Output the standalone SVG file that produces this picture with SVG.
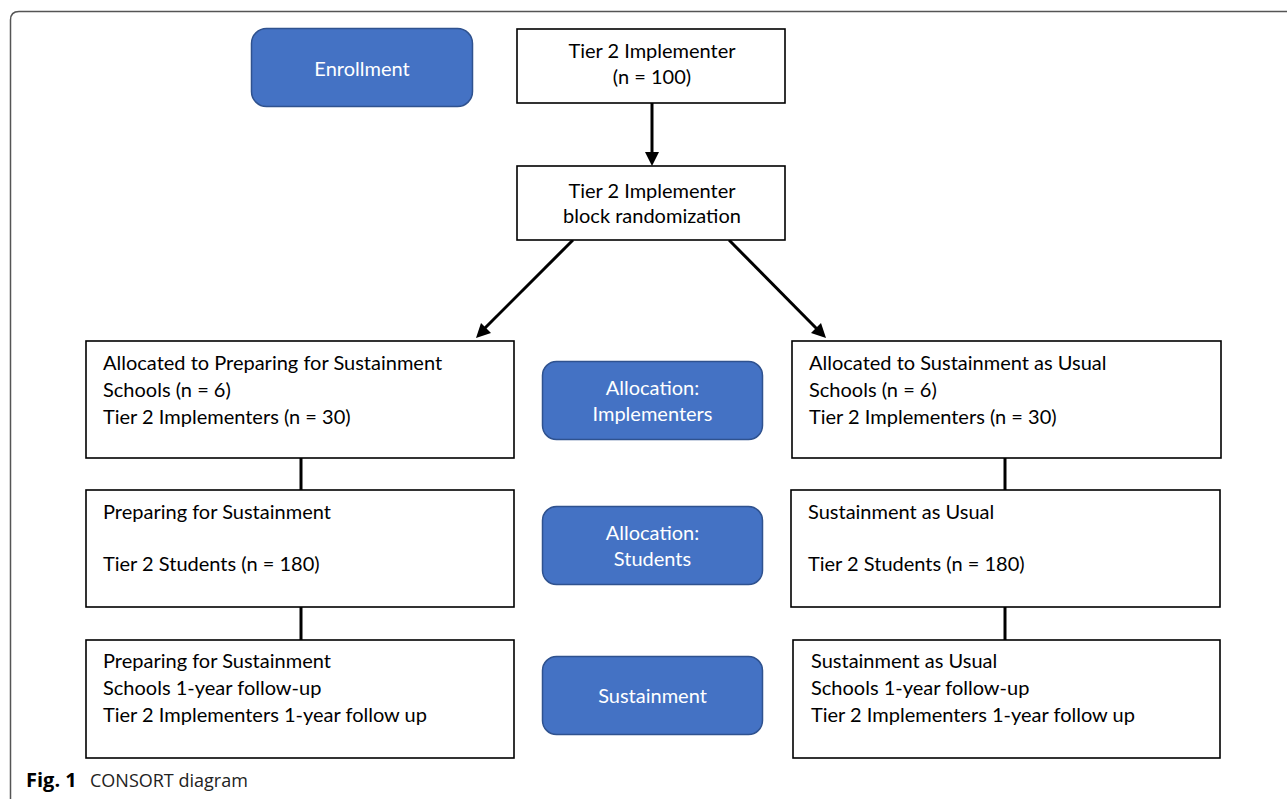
<svg xmlns="http://www.w3.org/2000/svg" width="1287" height="799" viewBox="0 0 1287 799">
<style>
.box{fill:#fff;stroke:#000;stroke-width:1.6}
.blue{fill:#4472C4;stroke:#2F528F;stroke-width:1.5}
.t{font-family:Lato,"Liberation Sans",sans-serif;font-size:20px;fill:#000}
.w{font-family:Lato,"Liberation Sans",sans-serif;font-size:20px;fill:#fff;text-anchor:middle}
.c{text-anchor:middle}
.ln{stroke:#000;stroke-width:3;fill:none}
.cap{font-family:"Open Sans","Noto Sans",sans-serif;font-size:18px;fill:#222}
</style>
<defs>
<marker id="ah" markerWidth="10" markerHeight="10" refX="6" refY="5" orient="auto" markerUnits="userSpaceOnUse" viewBox="0 0 10 10">
<path d="M0,0 L10,5 L0,10 z" fill="#000"/>
</marker>
</defs>
<rect width="1287" height="799" fill="#fff"/>
<path d="M10.5,799 L10.5,20 Q10.5,11.5 19,11.5 L1287,11.5" fill="none" stroke="#555" stroke-width="1.5"/>
<g id="connectors">
<line class="ln" x1="652" y1="103" x2="652" y2="153"/>
<path d="M645,152 L659,152 L652,166 z" fill="#000"/>
<line class="ln" x1="573" y1="240" x2="484" y2="329"/>
<path d="M476,338 L481,323 L491,333 z" fill="#000"/>
<line class="ln" x1="729" y1="240" x2="817" y2="329"/>
<path d="M826,338 L811,333 L821,323 z" fill="#000"/>
<line class="ln" x1="301" y1="458" x2="301" y2="490"/>
<line class="ln" x1="1005" y1="458" x2="1005" y2="490"/>
<line class="ln" x1="301" y1="607" x2="301" y2="640"/>
<line class="ln" x1="1005" y1="607" x2="1005" y2="640"/>
</g>
<g id="enrollment">
<rect class="blue" x="251.5" y="28.5" width="221" height="78" rx="15"/>
<text class="w" x="362" y="76">Enrollment</text>
</g>
<g id="tier2">
<rect class="box" x="517" y="29" width="268" height="74"/>
<text class="t c" x="652" y="58">Tier 2 Implementer</text>
<text class="t c" x="652" y="84">(n = 100)</text>
</g>
<g id="randomization">
<rect class="box" x="517" y="166" width="268" height="74"/>
<text class="t c" x="652" y="198">Tier 2 Implementer</text>
<text class="t c" x="652" y="223">block randomization</text>
</g>
<g id="alloc-left">
<rect class="box" x="86" y="341" width="428" height="117"/>
<text class="t" x="103" y="370">Allocated to Preparing for Sustainment</text>
<text class="t" x="103" y="397">Schools (n = 6)</text>
<text class="t" x="103" y="424">Tier 2 Implementers (n = 30)</text>
</g>
<g id="alloc-impl">
<rect class="blue" x="542.5" y="361.5" width="220" height="78" rx="14"/>
<text class="w" x="652.5" y="395">Allocation:</text>
<text class="w" x="652.5" y="421">Implementers</text>
</g>
<g id="alloc-right">
<rect class="box" x="792" y="341" width="429" height="117"/>
<text class="t" x="809" y="370">Allocated to Sustainment as Usual</text>
<text class="t" x="809" y="397">Schools (n = 6)</text>
<text class="t" x="809" y="424">Tier 2 Implementers (n = 30)</text>
</g>
<g id="students-left">
<rect class="box" x="86" y="490" width="428" height="117"/>
<text class="t" x="103" y="519">Preparing for Sustainment</text>
<text class="t" x="103" y="571">Tier 2 Students (n = 180)</text>
</g>
<g id="alloc-students">
<rect class="blue" x="542.5" y="506.5" width="220" height="78" rx="14"/>
<text class="w" x="652.5" y="540">Allocation:</text>
<text class="w" x="652.5" y="566">Students</text>
</g>
<g id="students-right">
<rect class="box" x="791" y="490" width="429" height="117"/>
<text class="t" x="808" y="519">Sustainment as Usual</text>
<text class="t" x="808" y="571">Tier 2 Students (n = 180)</text>
</g>
<g id="follow-left">
<rect class="box" x="86" y="640" width="428" height="118"/>
<text class="t" x="103" y="668">Preparing for Sustainment</text>
<text class="t" x="103" y="695">Schools 1-year follow-up</text>
<text class="t" x="103" y="722">Tier 2 Implementers 1-year follow up</text>
</g>
<g id="sustainment">
<rect class="blue" x="542.5" y="656.5" width="220" height="78" rx="14"/>
<text class="w" x="652.5" y="703">Sustainment</text>
</g>
<g id="follow-right">
<rect class="box" x="793" y="640" width="427" height="118"/>
<text class="t" x="811" y="668">Sustainment as Usual</text>
<text class="t" x="811" y="695">Schools 1-year follow-up</text>
<text class="t" x="811" y="722">Tier 2 Implementers 1-year follow up</text>
</g>
<g id="caption">
<text class="cap" x="26" y="787"><tspan font-weight="bold" font-size="20" fill="#000">Fig. 1</tspan><tspan x="90">CONSORT diagram</tspan></text>
</g>
</svg>
